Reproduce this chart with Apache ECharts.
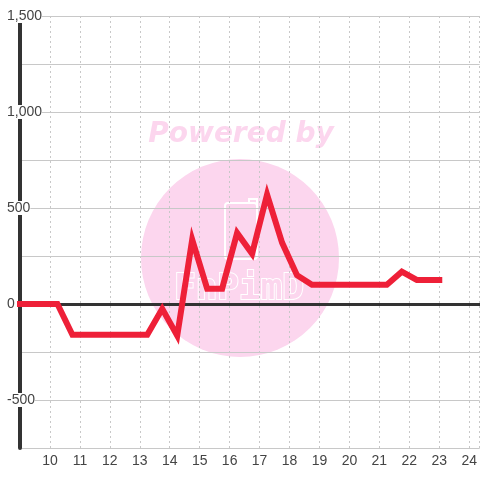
<!DOCTYPE html>
<html>
<head>
<meta charset="utf-8">
<script src="https://cdn.jsdelivr.net/npm/echarts@6/dist/echarts.min.js"></script>
<style>html,body{margin:0;padding:0;background:#fff}#c{width:480px;height:480px}</style>
</head>
<body>
<div id="c"></div>
<script>
var times  = [9, 9.25, 9.75, 10.25, 10.75, 11.25, 11.75, 12.25, 12.75, 13.25, 13.75, 14.25, 14.75, 15.25, 15.75, 16.25, 16.75, 17.25, 17.75, 18.25, 18.75, 19.25, 19.75, 20.25, 20.75, 21.25, 21.75, 22.25, 22.75, 23];
var values = [0, 0, 0, 0, -160, -160, -160, -160, -160, -160, -25, -165, 335, 80, 80, 370, 262, 570, 320, 150, 100, 100, 100, 100, 100, 100, 168, 125, 125, 125];
var yTicks = [-500, 0, 500, 1000, 1500];

var chart = echarts.init(document.getElementById('c'), null, {renderer: 'canvas'});
var pink = '#fcd6ee';
chart.setOption({
  animation: false,
  grid: {left: 20, right: 0, top: 16, bottom: 32, containLabel: false},
  graphic: {elements: [
    {type: 'circle', z: -10, shape: {cx: 240, cy: 258, r: 99}, style: {fill: pink}},
    {type: 'text', z: -10, style: {text: 'Powered by', x: 241, y: 135, font: 'italic bold 28px "DejaVu Sans"', fill: pink, textAlign: 'center', textVerticalAlign: 'middle'}},
    {type: 'rect', z: -9, shape: {x: 225, y: 203, width: 32, height: 56, r: 3}, style: {fill: 'none', stroke: '#fff', lineWidth: 2}},
    {type: 'polyline', z: -9, shape: {points: [[249, 204], [249, 199], [257, 199], [257, 206]]}, style: {fill: 'none', stroke: '#fff', lineWidth: 2}},
    {type: 'text', z: -9, style: {text: 'FnPimD', x: 239, y: 290, font: 'bold 36px "DejaVu Sans Mono"', fill: pink, stroke: '#fff', lineWidth: 2, textAlign: 'center', textVerticalAlign: 'middle'}}
  ]},
  xAxis: [{
    type: 'value', min: 9, max: 24.35, interval: 1,
    axisLine: {show: false, onZero: false},
    axisTick: {show: false},
    axisLabel: {showMinLabel: false, showMaxLabel: false, color: '#444', fontSize: 14, fontFamily: 'Liberation Sans', margin: 6},
    splitLine: {show: true, lineStyle: {color: '#c8c8c8', type: [2, 3], width: 1}}
  }, {
    type: 'value', min: 9, max: 24.35, interval: 1, position: 'top',
    axisLine: {show: true, onZero: true, lineStyle: {color: '#333', width: 3}},
    axisTick: {show: false}, axisLabel: {show: false}, splitLine: {show: false}
  }],
  yAxis: {
    type: 'value', min: -750, max: 1500, interval: 250,
    axisLine: {show: true, lineStyle: {color: '#333', width: 4}},
    axisTick: {show: false},
    axisLabel: {
      color: '#444', fontSize: 14, fontFamily: 'Liberation Sans', align: 'left', margin: 13,
      backgroundColor: '#fff', lineHeight: 14, padding: [0, 0],
      formatter: function (v) { return yTicks.indexOf(v) >= 0 ? v.toLocaleString('en-US') : ''; }
    },
    splitLine: {show: true, lineStyle: {color: '#c8c8c8', width: 1}}
  },
  series: [{
    type: 'line', xAxisIndex: 0,
    data: times.map(function (t, i) { return [t, values[i]]; }),
    showSymbol: false, clip: true,
    lineStyle: {color: '#ee2038', width: 6, join: 'miter', cap: 'square'}
  }]
});
</script>
</body>
</html>
